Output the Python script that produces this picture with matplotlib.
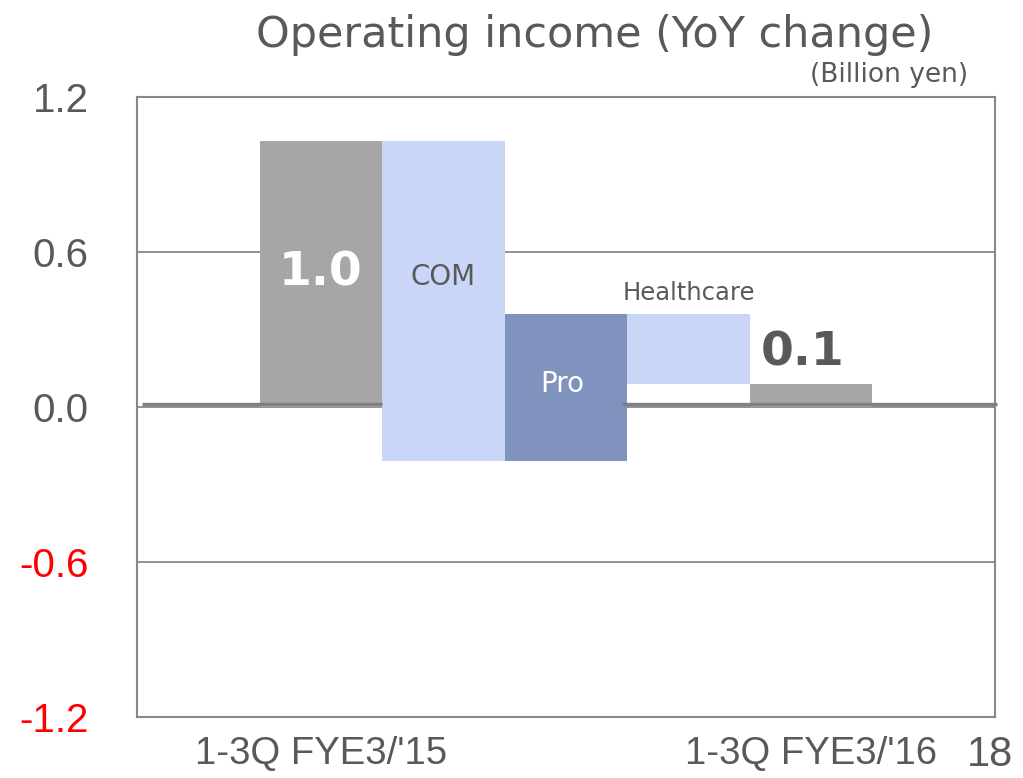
import matplotlib
matplotlib.use("Agg")
import matplotlib.pyplot as plt
import numpy as np

# ---- data ----
categories = ["1-3Q FYE3/'15", "COM", "Pro", "Healthcare", "1-3Q FYE3/'16"]
start_value = 1.03
deltas = [-1.24, 0.57, -0.27]
end_value = 0.09
start_label = "1.0"
end_label = "0.1"
y_ticks = [-1.2, -0.6, 0.0, 0.6, 1.2]
y_tick_labels = ["-1.2", "-0.6", "0.0", "0.6", "1.2"]
x_tick_labels = ["1-3Q FYE3/'15", "1-3Q FYE3/'16"]

# ---- derived waterfall geometry ----
levels = [start_value]
for d in deltas:
    levels.append(levels[-1] + d)
bottoms = [0.0] + [min(levels[i], levels[i + 1]) for i in range(len(deltas))] + [0.0]
heights = [start_value] + [abs(d) for d in deltas] + [end_value]
xpos = np.arange(1, len(categories) + 1)

GRAY_BAR = "#A6A6A6"
LIGHT = "#C9D6F8"
PRO = "#8093BF"
TXT = "#595959"
colors = [GRAY_BAR, LIGHT, PRO, LIGHT, GRAY_BAR]

fig = plt.figure(figsize=(10.23, 7.78), dpi=100)
ax = fig.add_axes([137 / 1023, 1 - 717 / 778, (995 - 137) / 1023, (717 - 97) / 778])

ax.bar(xpos, heights, bottom=bottoms, width=1.0, align="edge", color=colors,
       linewidth=0, zorder=3)

ax.set_xlim(0, 7)
ax.set_ylim(-1.2, 1.2)
ax.set_yticks(y_ticks)
ax.set_yticklabels(y_tick_labels, family=["Liberation Sans", "DejaVu Sans"], fontsize=29)
for lab, v in zip(ax.get_yticklabels(), y_ticks):
    lab.set_color("#FF0000" if v < 0 else TXT)
ax.tick_params(axis="y", length=0, pad=35)
ax.set_xticks([xpos[0] + 0.5, xpos[-1] + 0.5])
ax.set_xticklabels(x_tick_labels, family=["Liberation Sans", "DejaVu Sans"],
                   fontsize=27.5, color=TXT)
ax.tick_params(axis="x", length=0, pad=14)

ax.yaxis.grid(True, color="#888888", linewidth=1.3, zorder=1)
for s in ax.spines.values():
    s.set_color("#888888")
    s.set_linewidth(1.5)

# thick zero baseline segments
ax.plot([0.04, 2.0], [0.012, 0.012], color="#808080", linewidth=2.4, zorder=4,
        solid_capstyle="butt")
ax.plot([3.96, 7.02], [0.012, 0.012], color="#808080", linewidth=2.4, zorder=4,
        solid_capstyle="butt", clip_on=False)

# bar labels
ax.text(xpos[0] + 0.5, 0.52, start_label, ha="center", va="center", fontsize=34,
        fontweight="bold", color="white", zorder=5)
ax.text(xpos[1] + 0.5, 0.505, categories[1], ha="center", va="center", fontsize=20,
        color=TXT, zorder=5)
ax.text(xpos[2] + 0.47, 0.09, categories[2], ha="center", va="center", fontsize=20,
        color="white", zorder=5)
ax.text(xpos[3] + 0.5, 0.44, categories[3], ha="center", va="center", fontsize=17.5,
        color=TXT, zorder=5)
ax.text(xpos[4] + 0.43, 0.21, end_label, ha="center", va="center", fontsize=34,
        fontweight="bold", color=TXT, zorder=5)

fig.text(595 / 1023, 1 - 35 / 778, "Operating income (YoY change)", ha="center",
         va="center", fontsize=31, color=TXT)
fig.text(968 / 1023, 1 - 75 / 778, "(Billion yen)", ha="right", va="center",
         fontsize=19, color=TXT)
fig.text(990 / 1023, 1 - 755 / 778, "18", ha="center", va="center",
         family=["Liberation Sans", "DejaVu Sans"],
         fontsize=30, color=TXT)

fig.savefig("out.png", dpi=100)
